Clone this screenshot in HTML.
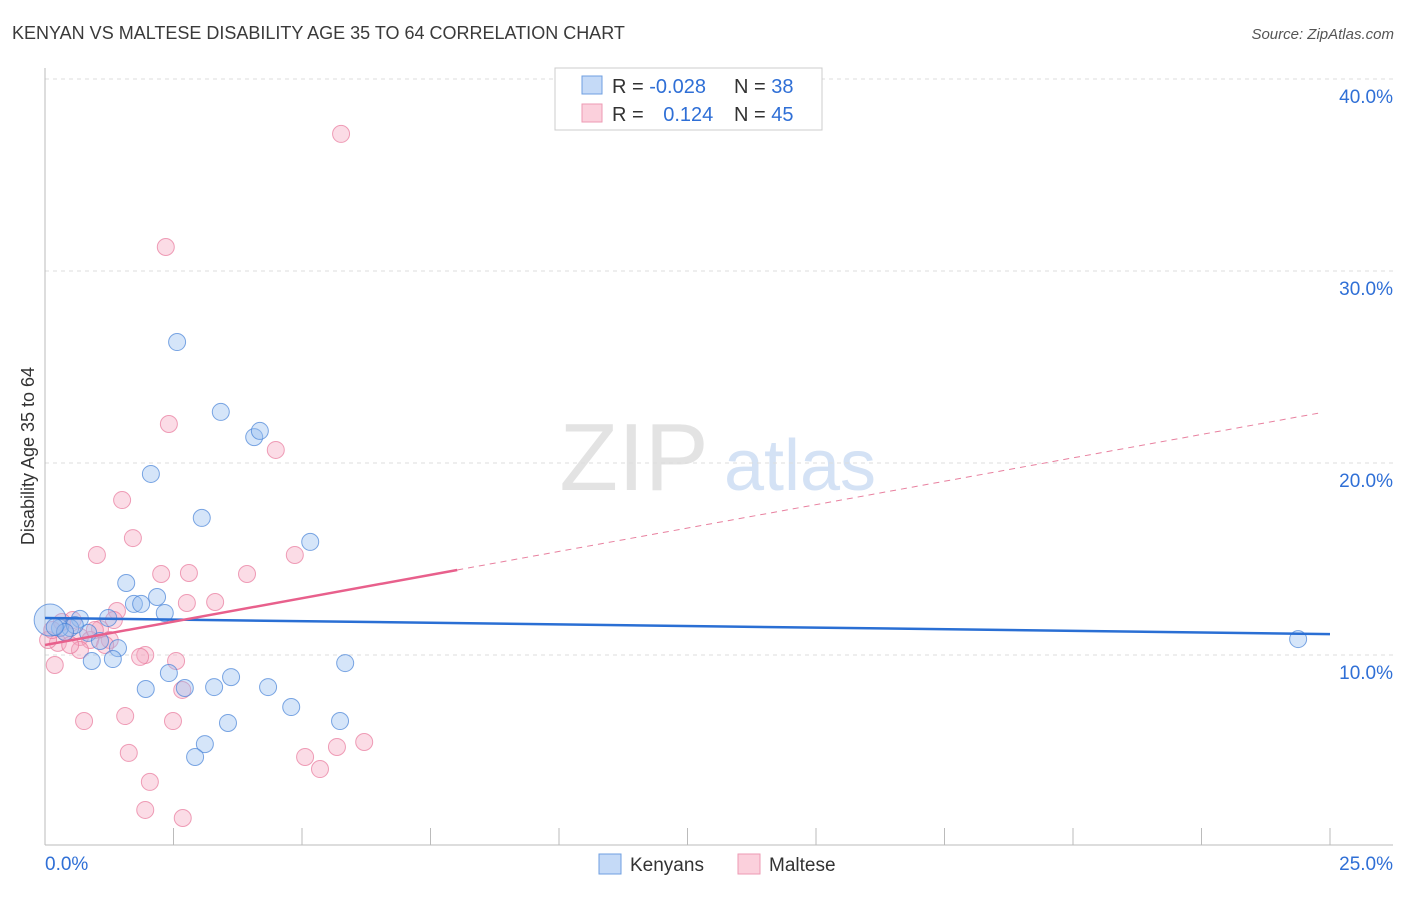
<!DOCTYPE html>
<html><head><meta charset="utf-8"><style>
body{margin:0;background:#fff;font-family:"Liberation Sans",sans-serif}
svg text{font-family:"Liberation Sans",sans-serif}
</style></head><body>
<svg id="c" width="1406" height="892" viewBox="0 0 1406 892">
<text x="12" y="39" font-size="18" fill="#3a3a3a">KENYAN VS MALTESE DISABILITY AGE 35 TO 64 CORRELATION CHART</text>
<text x="1394" y="39" font-size="15" fill="#555" text-anchor="end" font-style="italic">Source: ZipAtlas.com</text>
<text x="634" y="490" font-size="96" fill="#e3e3e3" font-family="Liberation Serif" text-anchor="middle">ZIP</text>
<text x="800" y="490" font-size="72" fill="#d4e2f5" text-anchor="middle">atlas</text>
<g id="grid"></g><g id="axes"></g><g id="pts"></g><g id="trend"></g>
<text transform="translate(34,456) rotate(-90)" font-size="18" fill="#333" text-anchor="middle">Disability Age 35 to 64</text>
<g>
<rect x="555" y="68" width="267" height="62" fill="#fff" stroke="#ccc"/>
<rect x="582" y="76" width="20" height="18" fill="#c5daf7" stroke="#6f9fe0"/>
<rect x="582" y="104" width="20" height="18" fill="#fbd0dc" stroke="#ee9ab3"/>
<text x="612" y="93" font-size="20" fill="#333">R = <tspan fill="#2f6fd6">-0.028</tspan></text>
<text x="734" y="93" font-size="20" fill="#333">N = <tspan fill="#2f6fd6">38</tspan></text>
<text x="612" y="121" font-size="20" fill="#333">R = <tspan fill="#2f6fd6" dx="14">0.124</tspan></text>
<text x="734" y="121" font-size="20" fill="#333">N = <tspan fill="#2f6fd6">45</tspan></text>
</g>
<g>
<rect x="599" y="854" width="22" height="20" fill="#c5daf7" stroke="#6f9fe0"/>
<text x="630" y="871" font-size="19" fill="#333">Kenyans</text>
<rect x="738" y="854" width="22" height="20" fill="#fbd0dc" stroke="#ee9ab3"/>
<text x="769" y="871" font-size="19" fill="#333">Maltese</text>
</g>
</svg>
<script>
const yTicks=[10,20,30,40];
const xTickLabels=["0.0%","25.0%"];
const blueX=[2.57,3.42,4.07,4.18,2.06,3.05,5.16,1.58,2.18,1.73,1.87,2.33,1.23,0.68,0.49,0.29,0.84,1.07,1.42,0.91,1.32,5.84,2.41,3.62,1.96,2.72,3.29,4.34,4.79,5.74,3.56,3.11,2.92,24.38,0.10,0.58,0.39,0.19];
const blueY=[26.30,22.66,21.35,21.67,19.43,17.14,15.89,13.75,13.02,12.66,12.66,12.19,11.93,11.88,11.41,11.41,11.15,10.73,10.36,9.69,9.79,9.58,9.06,8.85,8.23,8.28,8.33,8.33,7.29,6.56,6.46,5.36,4.69,10.83,11.82,11.56,11.20,11.46];
const pinkX=[5.76,2.35,2.41,4.49,1.50,1.71,1.01,4.86,2.26,2.80,3.93,3.31,2.76,1.40,1.34,0.54,1.07,0.39,0.68,0.88,1.26,0.25,0.06,0.68,1.95,1.85,2.55,0.19,2.67,1.56,0.76,2.49,1.63,5.06,5.68,6.21,5.35,2.04,1.95,2.68,1.17,0.49,0.33,0.14,0.97];
const pinkY=[37.14,31.25,22.03,20.68,18.07,16.09,15.21,15.21,14.22,14.27,14.22,12.76,12.71,12.29,11.82,11.82,11.35,11.20,10.94,10.78,10.78,10.63,10.78,10.26,10.00,9.90,9.69,9.48,8.18,6.82,6.56,6.56,4.90,4.69,5.21,5.47,4.06,3.39,1.93,1.51,10.52,10.52,11.72,11.30,11.30];
const blueTrend=[11.93,-0.0336]; // intercept, slope
const pinkTrend=[10.52,0.4874];
const pinkSolidEnd=8.02, trendEnd=25, pinkDashEnd=24.8;
const X=v=>45+v*51.4, Y=v=>847-v*19.2;
const NS="http://www.w3.org/2000/svg";
function mk(tag,attrs,parent){const e=document.createElementNS(NS,tag);for(const k in attrs)e.setAttribute(k,attrs[k]);document.getElementById(parent).appendChild(e);return e;}
const g0=mk('line',{x1:45,x2:1393,y1:Y(40),y2:Y(40),stroke:'#ddd','stroke-dasharray':'4,4'},'grid');


yTicks.forEach(t=>{
 const l=mk('line',{x1:45,x2:1393,y1:Y(t),y2:Y(t),stroke:'#ddd','stroke-dasharray':'4,4'},'grid');
 
 
 const tx=mk('text',{x:1393,y:Y(t)+24,'font-size':19,fill:'#2f6fd6','text-anchor':'end'},'grid');
 tx.textContent=t.toFixed(1)+'%';
 
 
});
const ax=mk('line',{x1:45,x2:1393,y1:845,y2:845,stroke:'#bbb'},'axes');


const ay=mk('line',{x1:45,x2:45,y1:68,y2:845,stroke:'#bbb'},'axes');


for(let i=0;i<=10;i++){const t=mk('line',{x1:X(i*2.5),x2:X(i*2.5),y1:828,y2:845,stroke:'#bbb'},'axes');
 
 }
const xl0=mk('text',{x:45,y:870,'font-size':19,fill:'#2f6fd6'},'axes');xl0.textContent=xTickLabels[0];


const xl1=mk('text',{x:1393,y:870,'font-size':19,fill:'#2f6fd6','text-anchor':'end'},'axes');xl1.textContent=xTickLabels[1];


pinkX.forEach((x,i)=>{const c=mk('circle',{cx:X(x),cy:Y(pinkY[i]),r:8.5,fill:'rgba(246,168,192,0.4)',stroke:'rgba(232,120,155,0.7)','stroke-width':1},'pts');
 
 });
blueX.forEach((x,i)=>{const c=mk('circle',{cx:X(x),cy:Y(blueY[i]),r:i==34?16:8.5,fill:'rgba(150,190,240,0.4)',stroke:'rgba(70,130,215,0.7)','stroke-width':1},'pts');
 
 });
const bt=mk('line',{x1:X(0),y1:Y(blueTrend[0]),x2:X(trendEnd),y2:Y(blueTrend[0]+blueTrend[1]*trendEnd),stroke:'#2a6fd4','stroke-width':2.5},'trend');


const pt=mk('line',{x1:X(0),y1:Y(pinkTrend[0]),x2:X(pinkSolidEnd),y2:Y(pinkTrend[0]+pinkTrend[1]*pinkSolidEnd),stroke:'#e8608c','stroke-width':2.5},'trend');


const pd=mk('line',{x1:X(pinkSolidEnd),y1:Y(pinkTrend[0]+pinkTrend[1]*pinkSolidEnd),x2:X(pinkDashEnd),y2:Y(pinkTrend[0]+pinkTrend[1]*pinkDashEnd),stroke:'#e8809f','stroke-width':1,'stroke-dasharray':'6,5'},'trend');


</script>
</body></html>
